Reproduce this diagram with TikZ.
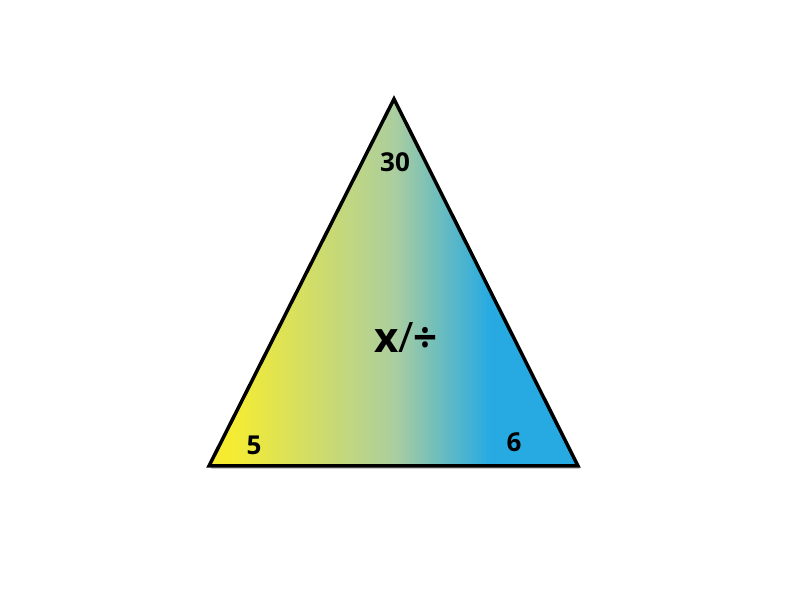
\documentclass[tikz,border=0pt]{standalone}
\usepackage{fontspec}
\setmainfont{Open Sans}
\definecolor{yel}{RGB}{245,236,50}
\definecolor{mid}{RGB}{172,206,158}
\definecolor{blu}{RGB}{39,170,226}
\definecolor{shad}{RGB}{150,150,150}
\pgfdeclarehorizontalshading{trishade}{100bp}{color(0bp)=(yel); color(25bp)=(yel); color(28bp)=(yel); color(50bp)=(mid); color(63bp)=(blu); color(75bp)=(blu); color(100bp)=(blu)}
\tikzset{lbl/.style={font=\bfseries\fontsize{26}{30}\selectfont, inner sep=0pt}}
\begin{document}
\begin{tikzpicture}[x=1pt,y=1pt]
\useasboundingbox (0,0) rectangle (792,612);
\coordinate (T) at (394,513);
\coordinate (L) at (209,146);
\coordinate (R) at (578,146);
\fill[shad, opacity=0.5] ([shift={(2,-3)}]T) -- ([shift={(2,-3)}]L) -- ([shift={(2,-3)}]R) -- cycle;
\shade[shading=trishade] (T) -- (L) -- (R) -- cycle;
\draw[line width=3.5pt, line join=miter] (T) -- (L) -- (R) -- cycle;
\node[lbl] (top) at (395,450) {30};
\node[lbl, font=\bfseries\fontsize{42}{48}\selectfont] (op) at (406,274) {x{\mdseries/}÷};
\node[lbl] (l) at (254,167) {5};
\node[lbl] (r) at (514,170) {6};
\end{tikzpicture}
\end{document}
